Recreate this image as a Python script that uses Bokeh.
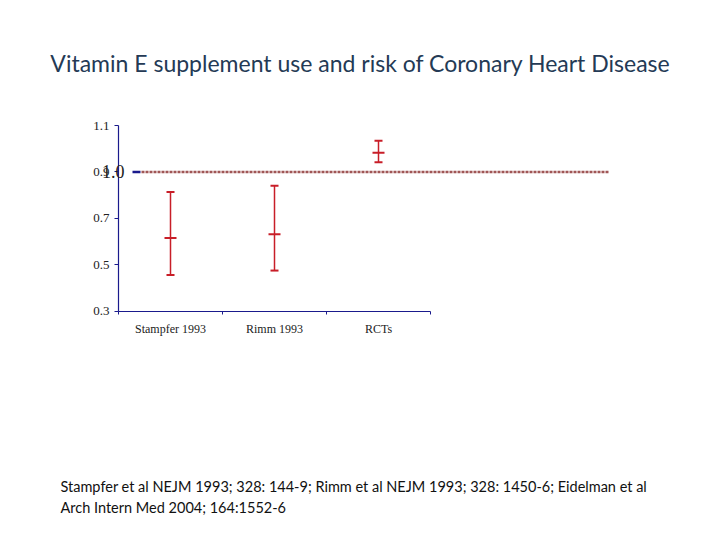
from bokeh.plotting import figure
from bokeh.models import Label, FixedTicker, LinearAxis, Range1d
from bokeh.embed import file_html
from bokeh.resources import INLINE

categories = ["Stampfer 1993", "Rimm 1993", "RCTs"]
rr_mean = [0.615, 0.631, 0.983]
rr_low = [0.456, 0.475, 0.942]
rr_high = [0.814, 0.840, 1.034]
y_ticks = [0.3, 0.5, 0.7, 0.9, 1.1]
ref_value = 0.9
ref_label = "1.0"
title_text = "Vitamin E supplement use and risk of Coronary Heart Disease"
footer_lines = ["Stampfer et al NEJM 1993; 328: 144-9;  Rimm et al NEJM 1993; 328: 1450-6;  Eidelman et al",
                "Arch Intern Med 2004; 164:1552-6"]

W, H = 720, 540
X0PX, XUNIT = 118.0, 104.0          # pixel of x=0, pixels per category
Y_TOP_PX, YUNIT = 125.0, 232.1      # pixel of y=1.1, pixels per unit
x_start = -X0PX / XUNIT
x_end = (W - X0PX) / XUNIT
y_end = 1.1 + Y_TOP_PX / YUNIT
y_start = 1.1 - (H - Y_TOP_PX) / YUNIT

p = figure(width=W, height=H, output_backend="svg", toolbar_location=None,
           x_range=Range1d(x_start, x_end), y_range=Range1d(y_start, y_end),
           min_border=0, x_axis_type=None, y_axis_type=None)
p.outline_line_color = None
p.grid.visible = False
p.background_fill_color = "white"
p.border_fill_color = "white"

axis_color = "#1a1a8c"
serif = "Liberation Serif"
n = len(categories)

ya = LinearAxis(ticker=FixedTicker(ticks=y_ticks), fixed_location=0, bounds=(0.3, 1.1))
ya.axis_line_color = axis_color
ya.axis_line_width = 1.2
ya.major_tick_line_color = axis_color
ya.major_tick_in = 0
ya.major_tick_out = 4
ya.minor_tick_line_color = None
ya.major_label_text_font = serif
ya.major_label_text_font_size = "13px"
ya.major_label_text_color = "#222222"
ya.major_label_standoff = 5
p.add_layout(ya, "left")

centers = [i + 0.5 for i in range(n)]
xa = LinearAxis(ticker=FixedTicker(ticks=centers, minor_ticks=list(range(n + 1))),
                fixed_location=0.3, bounds=(0, n),
                major_label_overrides={c: cat for c, cat in zip(centers, categories)})
xa.axis_line_color = axis_color
xa.axis_line_width = 1.2
xa.major_tick_line_color = None
xa.minor_tick_line_color = axis_color
xa.minor_tick_in = 0
xa.minor_tick_out = 3
xa.major_label_text_font = serif
xa.major_label_text_font_size = "12px"
xa.major_label_text_color = "#222222"
xa.major_label_standoff = 5
p.add_layout(xa, "below")

# reference line
p.segment(x0=[(141 - X0PX) / XUNIT], y0=[ref_value], x1=[(608 - X0PX) / XUNIT], y1=[ref_value],
          line_color="#a05656", line_width=2.5, line_dash="3 1")
p.segment(x0=[(132 - X0PX) / XUNIT], y0=[ref_value], x1=[(140 - X0PX) / XUNIT], y1=[ref_value],
          line_color=axis_color, line_width=2.5)
p.add_layout(Label(x=(124 - X0PX) / XUNIT, y=ref_value, text=ref_label, text_align="right",
                   text_baseline="middle", text_font=serif, text_font_size="18px",
                   text_color="#222222"))

# error bars
red = "#c81e28"
p.segment(x0=centers, y0=rr_low, x1=centers, y1=rr_high, line_color=red, line_width=1.5)
p.scatter(x=centers, y=rr_low, marker="dash", size=8, line_color=red, line_width=2)
p.scatter(x=centers, y=rr_high, marker="dash", size=8, line_color=red, line_width=2)
p.scatter(x=centers, y=rr_mean, marker="dash", size=12, line_color=red, line_width=2)

# title and footer (screen units, frame == whole canvas)
p.add_layout(Label(x=360, y=H - 62, x_units="screen", y_units="screen",
                   text=title_text, text_align="center", text_baseline="middle",
                   text_font="Lato", text_font_size="23px", text_color="#243a55"))
p.add_layout(Label(x=60, y=H - 486, x_units="screen", y_units="screen",
                   text=footer_lines[0], text_align="left", text_baseline="middle",
                   text_font="Lato", text_font_size="14.5px", text_color="#111111"))
p.add_layout(Label(x=60, y=H - 507, x_units="screen", y_units="screen",
                   text=footer_lines[1], text_align="left", text_baseline="middle",
                   text_font="Lato", text_font_size="14.5px", text_color="#111111"))

open("out.html", "w").write(file_html(p, INLINE))
